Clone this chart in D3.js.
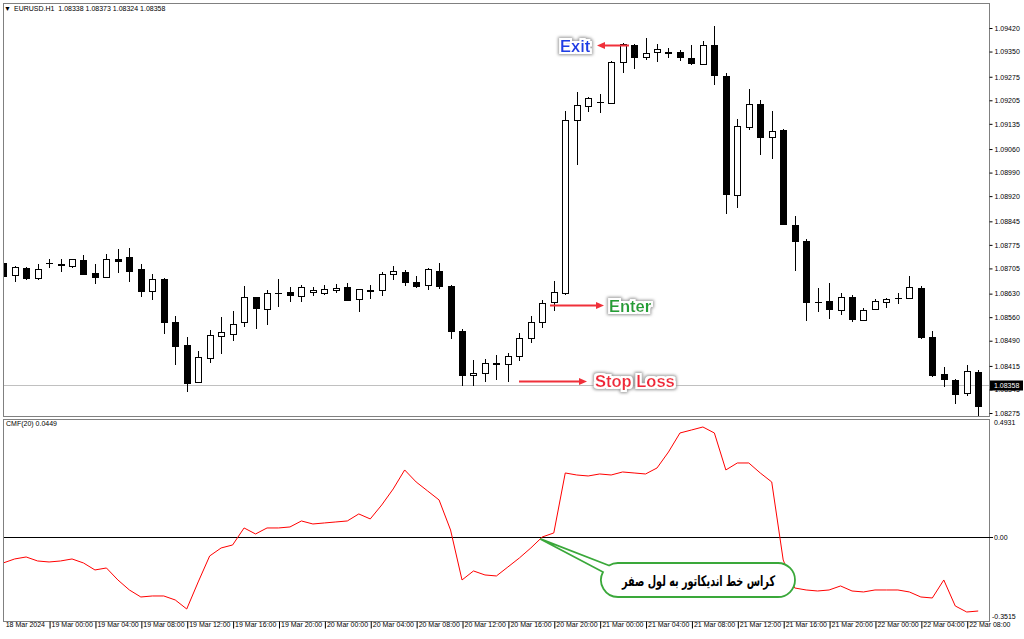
<!DOCTYPE html>
<html><head><meta charset="utf-8">
<script src="https://cdn.jsdelivr.net/npm/d3@7"></script>
<style>body{margin:0;background:#fff;} svg{display:block;font-family:"Liberation Sans",Arial,sans-serif;}</style>
</head><body><svg id="c" width="1024" height="639"></svg>
<script>
const symbolInfo = "EURUSD.H1  1.08338 1.08373 1.08324 1.08358";
const indicatorInfo = "CMF(20) 0.0449";
const opens = [1.08720,1.08685,1.08707,1.08676,1.08720,1.08716,1.08713,1.08730,1.08690,1.08678,
1.08732,1.08738,1.08703,1.08639,1.08673,1.08547,1.08478,1.08367,1.08439,1.08503,
1.08511,1.08545,1.08619,1.08584,1.08631,1.08634,1.08622,1.08634,1.08631,1.08640,
1.08650,1.08615,1.08639,1.08640,1.08687,1.08695,1.08664,1.08657,1.08697,1.08653,
1.08519,1.08387,1.08394,1.08422,1.08421,1.08446,1.08497,1.08546,1.08604,1.08632,
1.09146,1.09189,1.09200,1.09198,1.09318,1.09370,1.09333,1.09349,1.09347,1.09348,
1.09331,1.09312,1.09369,1.09278,1.08922,1.09125,1.09194,1.09097,1.09117,1.08834,
1.08786,1.08604,1.08608,1.08581,1.08621,1.08552,1.08584,1.08605,1.08616,1.08617,
1.08646,1.08500,1.08391,1.08374,1.08333,1.08398];
const highs = [1.08751,1.08712,1.08709,1.08717,1.08733,1.08733,1.08733,1.08745,1.08717,1.08747,
1.08763,1.08765,1.08718,1.08688,1.08676,1.08564,1.08501,1.08460,1.08521,1.08561,
1.08578,1.08654,1.08621,1.08641,1.08674,1.08649,1.08656,1.08651,1.08656,1.08659,
1.08663,1.08644,1.08656,1.08693,1.08711,1.08700,1.08683,1.08705,1.08720,1.08655,
1.08524,1.08433,1.08437,1.08447,1.08453,1.08513,1.08562,1.08611,1.08669,1.09174,
1.09229,1.09216,1.09223,1.09321,1.09374,1.09372,1.09389,1.09372,1.09361,1.09355,
1.09369,1.09382,1.09427,1.09285,1.09149,1.09239,1.09206,1.09173,1.09120,1.08862,
1.08792,1.08648,1.08663,1.08631,1.08627,1.08586,1.08614,1.08617,1.08632,1.08681,
1.08654,1.08520,1.08412,1.08376,1.08418,1.08403];
const lows = [1.08659,1.08669,1.08673,1.08674,1.08710,1.08698,1.08708,1.08687,1.08663,1.08678,
1.08695,1.08669,1.08623,1.08614,1.08513,1.08421,1.08341,1.08367,1.08426,1.08454,
1.08491,1.08534,1.08527,1.08540,1.08594,1.08609,1.08607,1.08627,1.08629,1.08634,
1.08611,1.08577,1.08617,1.08625,1.08673,1.08657,1.08649,1.08645,1.08647,1.08498,
1.08359,1.08359,1.08371,1.08376,1.08369,1.08433,1.08485,1.08532,1.08581,1.08630,
1.09015,1.09174,1.09171,1.09197,1.09288,1.09302,1.09327,1.09323,1.09335,1.09324,
1.09312,1.09312,1.09253,1.08869,1.08887,1.09119,1.09045,1.09033,1.08836,1.08700,
1.08552,1.08577,1.08557,1.08570,1.08549,1.08551,1.08583,1.08590,1.08602,1.08617,
1.08498,1.08386,1.08355,1.08305,1.08330,1.08270];
const closes = [1.08683,1.08710,1.08676,1.08702,1.08721,1.08717,1.08733,1.08689,1.08680,1.08733,
1.08728,1.08698,1.08638,1.08673,1.08547,1.08475,1.08364,1.08442,1.08506,1.08515,
1.08541,1.08620,1.08586,1.08632,1.08632,1.08625,1.08649,1.08641,1.08644,1.08646,
1.08612,1.08644,1.08640,1.08688,1.08697,1.08664,1.08654,1.08702,1.08652,1.08519,
1.08387,1.08394,1.08423,1.08423,1.08445,1.08497,1.08547,1.08602,1.08636,1.09146,
1.09191,1.09213,1.09201,1.09320,1.09372,1.09333,1.09347,1.09357,1.09348,1.09333,
1.09315,1.09369,1.09281,1.08925,1.09129,1.09193,1.09095,1.09115,1.08836,1.08787,
1.08604,1.08605,1.08584,1.08619,1.08555,1.08581,1.08609,1.08614,1.08616,1.08649,
1.08500,1.08388,1.08376,1.08332,1.08400,1.08295];
const cmf = [-0.1089,-0.0921,-0.0838,-0.1005,-0.1047,-0.1005,-0.0921,-0.1089,-0.1381,-0.1298,
-0.1800,-0.2218,-0.2511,-0.2469,-0.2469,-0.2636,-0.3013,-0.1883,-0.0796,-0.0461,
-0.0336,0.0375,0.0124,0.0375,0.0375,0.0417,0.0668,0.0542,0.0584,0.0626,
0.0668,0.0961,0.0752,0.1337,0.2006,0.2800,0.2298,0.1922,0.1546,0.0291,
-0.1800,-0.1423,-0.1590,-0.1632,-0.1256,-0.0879,-0.0461,-0.0001,0.0166,0.2674,
0.2590,0.2549,0.2632,0.2590,0.2716,0.2674,0.2632,0.2883,0.3552,0.4346,
0.4471,0.4597,0.4346,0.2800,0.3092,0.3092,0.2674,0.2298,-0.0963,-0.2134,
-0.2218,-0.2260,-0.2218,-0.2050,-0.2260,-0.2301,-0.2218,-0.2218,-0.2218,-0.2301,
-0.2511,-0.2553,-0.1800,-0.2887,-0.3139,-0.3097];
const priceTicks = [1.09420,1.09350,1.09275,1.09205,1.09135,1.09060,1.08990,1.08920,1.08845,1.08775,1.08705,1.08630,1.08560,1.08490,1.08415,1.08345,1.08275];
const lastPrice = 1.08358;
const cmfTop = 0.4931, cmfBottom = -0.3515, cmfZero = 0;
const timeLabels = ["18 Mar 2024","19 Mar 00:00","19 Mar 04:00","19 Mar 08:00","19 Mar 12:00","19 Mar 16:00","19 Mar 20:00",
"20 Mar 00:00","20 Mar 04:00","20 Mar 08:00","20 Mar 12:00","20 Mar 16:00","20 Mar 20:00",
"21 Mar 00:00","21 Mar 04:00","21 Mar 08:00","21 Mar 12:00","21 Mar 16:00","21 Mar 20:00",
"22 Mar 00:00","22 Mar 04:00","22 Mar 08:00"];
const timeLabelIdx = [0,4,8,12,16,20,24,28,32,36,40,44,48,52,56,60,64,68,72,76,80,84];
const calloutText = "کراس خط اندیکاتور به لول صفر";

const svg = d3.select("#c");
const L = 3, R = 989, mTop = 3, mBot = 416, sTop = 419, sBot = 621;
const n = opens.length;
const x = d3.scaleLinear().domain([0, n - 1]).range([3.2, 978.2]);
const yP = d3.scaleLinear().domain([1.08275, 1.09420]).range([413, 28]);
const yC = d3.scaleLinear().domain([cmfBottom, cmfTop]).range([sBot, sTop]);

const defs = svg.append("defs");
defs.append("clipPath").attr("id","mclip").append("rect").attr("x",L+1).attr("y",mTop+1).attr("width",R-L-1).attr("height",mBot-mTop-1);
defs.append("clipPath").attr("id","sclip").append("rect").attr("x",L+1).attr("y",sTop+1).attr("width",R-L-1).attr("height",sBot-sTop-1);
const f = defs.append("filter").attr("id","glow").attr("x","-30%").attr("y","-60%").attr("width","160%").attr("height","220%");
f.append("feMorphology").attr("in","SourceAlpha").attr("operator","dilate").attr("radius",2.5).attr("result","d1");
f.append("feGaussianBlur").attr("in","d1").attr("stdDeviation",1.6).attr("result","b1");
f.append("feFlood").attr("flood-color","#9a9a9a").attr("result","fl");
f.append("feComposite").attr("in","fl").attr("in2","b1").attr("operator","in").attr("result","sh");
f.append("feMorphology").attr("in","SourceAlpha").attr("operator","dilate").attr("radius",1.5).attr("result","d2");
f.append("feFlood").attr("flood-color","#ffffff").attr("result","fw");
f.append("feComposite").attr("in","fw").attr("in2","d2").attr("operator","in").attr("result","wh");
const fm = f.append("feMerge");
fm.append("feMergeNode").attr("in","sh");
fm.append("feMergeNode").attr("in","wh");
fm.append("feMergeNode").attr("in","SourceGraphic");

// frames
svg.append("rect").attr("x",L+0.5).attr("y",mTop+0.5).attr("width",R-L).attr("height",mBot-mTop).attr("fill","none").attr("stroke","#808080");
svg.append("rect").attr("x",L+0.5).attr("y",sTop+0.5).attr("width",R-L).attr("height",sBot-sTop).attr("fill","none").attr("stroke","#808080");

// header
svg.append("text").attr("x",4).attr("y",11).attr("font-size",7).attr("fill","#000").text("▼");
svg.append("text").attr("x",14).attr("y",11).attr("font-size",7).attr("fill","#000").attr("xml:space","preserve").text(symbolInfo);

// last price line
const mg = svg.append("g").attr("clip-path","url(#mclip)");
mg.append("line").attr("x1",L).attr("x2",R).attr("y1",Math.round(yP(lastPrice))+0.5).attr("y2",Math.round(yP(lastPrice))+0.5).attr("stroke","#c0c0c0");

// candles
const idx = d3.range(n);
const cg = mg.append("g");
idx.forEach(i => {
  const cx = Math.round(x(i));
  const o = opens[i], c = closes[i];
  cg.append("line").attr("x1",cx+0.5).attr("x2",cx+0.5).attr("y1",Math.round(yP(highs[i]))).attr("y2",Math.round(yP(lows[i]))+1).attr("stroke","#000");
  const t = Math.round(yP(Math.max(o,c))), b = Math.round(yP(Math.min(o,c)));
  if (b - t < 1) {
    cg.append("line").attr("x1",cx-3).attr("x2",cx+4).attr("y1",t+0.5).attr("y2",t+0.5).attr("stroke","#000");
  } else {
    cg.append("rect").attr("x",cx-2.5).attr("y",t+0.5).attr("width",6).attr("height",b-t)
      .attr("fill", c < o ? "#000" : "#fff").attr("stroke","#000");
  }
});

// price axis
const pa = svg.append("g").attr("transform",`translate(${R+0.5},0)`)
  .call(d3.axisRight(yP).tickValues(priceTicks).tickSize(3).tickPadding(2).tickFormat(d3.format(".5f")));
pa.select(".domain").remove();
pa.selectAll("text").attr("font-size",7).attr("font-family","Liberation Sans, Arial").attr("fill","#000");
pa.selectAll("line").attr("stroke","#000");
const ly = Math.round(yP(lastPrice));
svg.append("rect").attr("x",R+1).attr("y",ly-4.5).attr("width",33).attr("height",10).attr("fill","#000");
svg.append("text").attr("x",R+5).attr("y",ly+3).attr("font-size",7).attr("fill","#fff").text(d3.format(".5f")(lastPrice));

// sub window
const sg = svg.append("g").attr("clip-path","url(#sclip)");
sg.append("line").attr("x1",L).attr("x2",R).attr("y1",Math.round(yC(cmfZero))+0.5).attr("y2",Math.round(yC(cmfZero))+0.5).attr("stroke","#000");
sg.append("path").datum(cmf).attr("fill","none").attr("stroke","#ff0000").attr("stroke-width",1)
  .attr("d", d3.line().x((d,i)=>x(i)).y(d=>yC(d)));
svg.append("text").attr("x",6).attr("y",426).attr("font-size",7).attr("fill","#000").text(indicatorInfo);
svg.append("text").attr("x",R+5).attr("y",425).attr("font-size",7).attr("fill","#000").text(cmfTop.toFixed(4));
svg.append("text").attr("x",R+3).attr("y",sBot-2).attr("font-size",7).attr("fill","#000").text(cmfBottom.toFixed(4));
const zy = Math.round(yC(cmfZero));
svg.append("line").attr("x1",R).attr("x2",R+4).attr("y1",zy+0.5).attr("y2",zy+0.5).attr("stroke","#000");
svg.append("text").attr("x",R+5).attr("y",zy+3).attr("font-size",7).attr("fill","#000").text(cmfZero.toFixed(2));

// time axis
const ta = svg.append("g").attr("transform",`translate(0,${sBot+0.5})`)
  .call(d3.axisBottom(x).tickValues(timeLabelIdx).tickSize(7).tickFormat((d,i)=>timeLabels[i]));
ta.select(".domain").remove();
ta.selectAll("line").attr("stroke","#000").attr("transform","translate(0.5,0)");
ta.selectAll("text").attr("font-size",7).attr("font-family","Liberation Sans, Arial").attr("fill","#000")
  .attr("text-anchor","start").attr("dx",2).attr("dy",0).attr("y",5);
ta.selectAll(".tick").filter((d,i)=>i===0).select("line").remove();

// annotations
const red = "#f0303a";
function arrow(x1, x2, yy) {
  const dir = Math.sign(x2 - x1);
  svg.append("line").attr("x1",x1).attr("x2",x2 - dir*6).attr("y1",yy).attr("y2",yy).attr("stroke",red).attr("stroke-width",2);
  svg.append("path").attr("d",`M${x2},${yy} L${x2-dir*8},${yy-3.5} L${x2-dir*8},${yy+3.5} Z`).attr("fill",red);
}
arrow(629, 597, 45.5);
arrow(550, 604, 305.5);
arrow(519, 587, 381.5);
svg.append("text").attr("x",560).attr("y",52).attr("font-size",16.5).attr("font-weight","bold").attr("fill","#1f3fe6").attr("filter","url(#glow)").text("Exit");
svg.append("text").attr("x",609).attr("y",312).attr("font-size",16.5).attr("font-weight","bold").attr("fill","#22a035").attr("filter","url(#glow)").text("Enter");
svg.append("text").attr("x",595).attr("y",387).attr("font-size",16.5).attr("font-weight","bold").attr("fill","#f0283a").attr("filter","url(#glow)").text("Stop Loss");

// callout
const tip = [x(47) - 2, yC(0) + 2];
svg.append("path").attr("d",`M609,565.5 L${tip[0]},${tip[1]} L603,572 A17,17 0 0 0 618,597 L778,597 A17,17 0 0 0 778,563 L618,563 A17,17 0 0 0 609,565.5 Z`)
  .attr("fill","#fff").attr("stroke","#3aa83a").attr("stroke-width",1.8);
svg.append("text").attr("x",775).attr("y",586).attr("direction","rtl").attr("text-anchor","start")
  .attr("font-size",14.5).attr("font-weight","bold")
  .attr("textLength",153).attr("lengthAdjust","spacingAndGlyphs")
  .attr("font-family","DejaVu Sans, sans-serif").attr("fill","#000").text(calloutText);
</script></body></html>
